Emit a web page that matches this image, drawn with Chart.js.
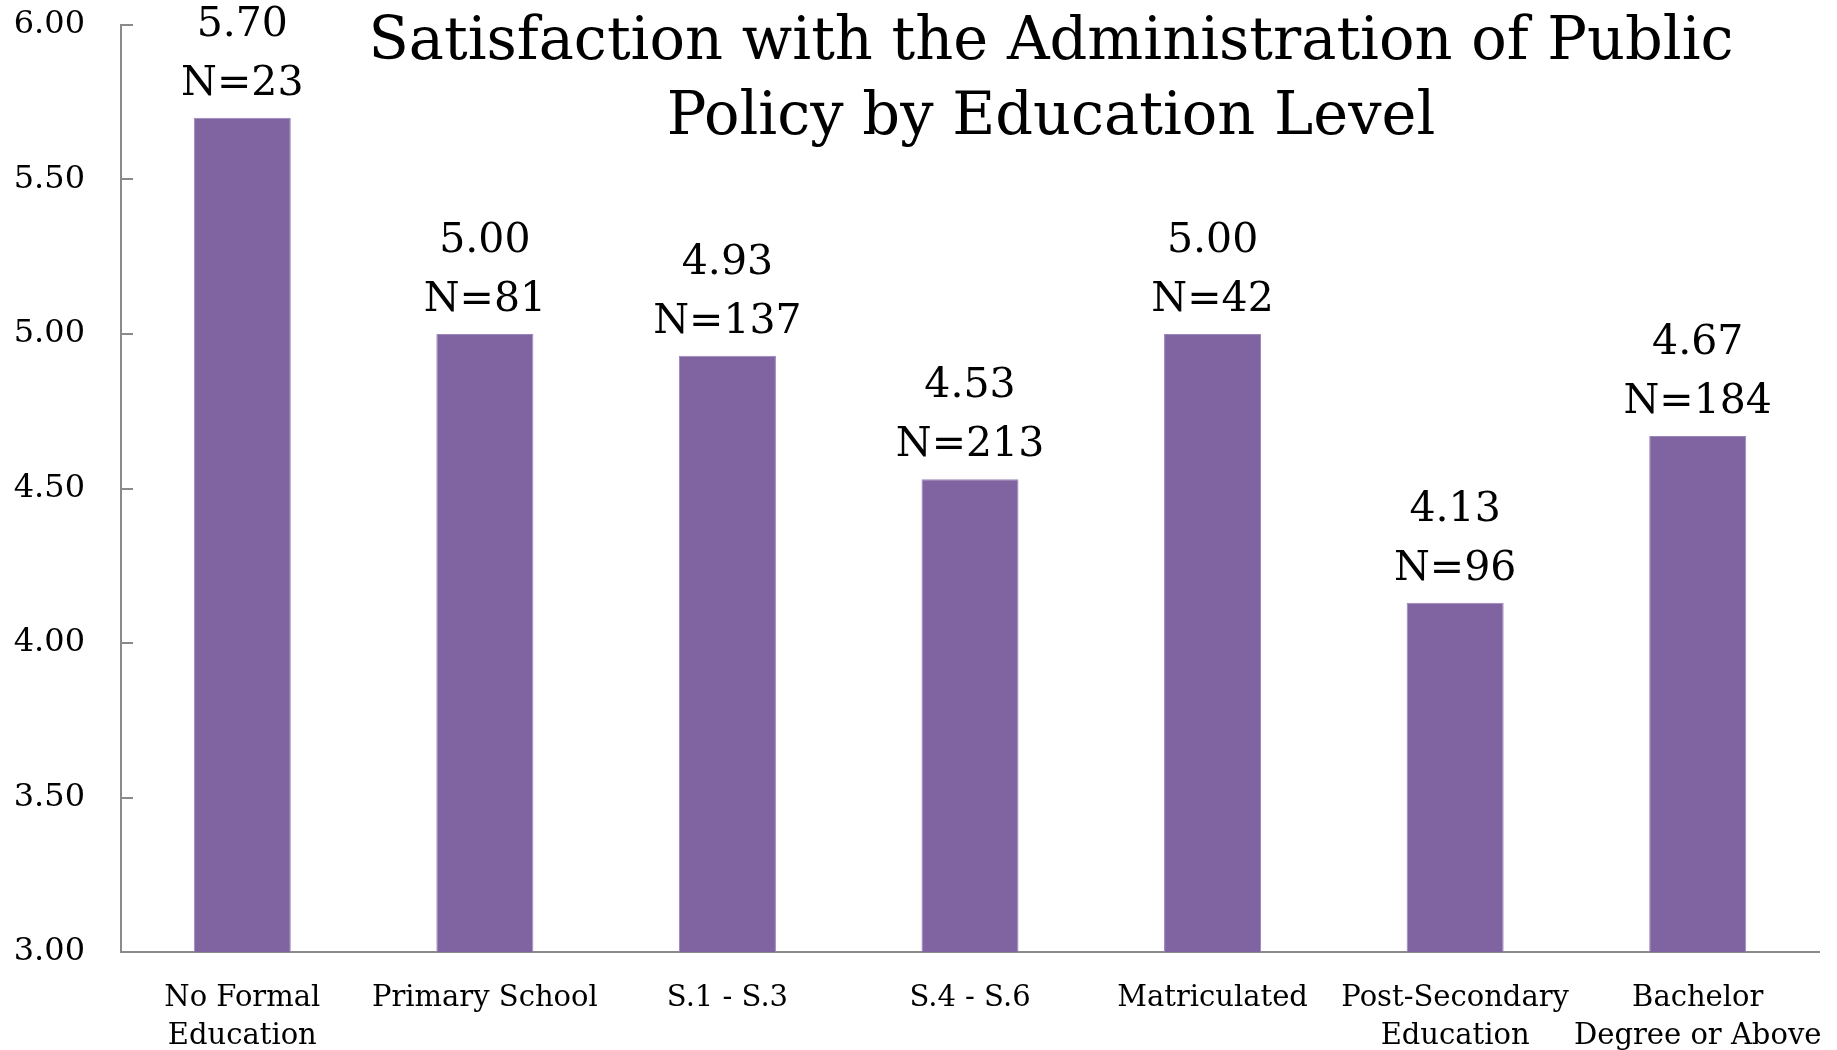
<!DOCTYPE html>
<html>
<head>
<meta charset="utf-8">
<script src="https://cdn.jsdelivr.net/npm/chart.js@4/dist/chart.umd.min.js"></script>
<style>
html,body{margin:0;padding:0;background:#fff;}
#wrap{width:1837px;height:1050px;}
</style>
</head>
<body>
<div id="wrap"><canvas id="c" width="1837" height="1050"></canvas></div>
<script>
const categories = [["No Formal","Education"],"Primary School","S.1 - S.3","S.4 - S.6","Matriculated",["Post-Secondary","Education"],["Bachelor","Degree or Above"]];
const meanScores = [5.70, 5.00, 4.93, 4.53, 5.00, 4.13, 4.67];
const sampleSizes = [23, 81, 137, 213, 42, 96, 184];
const titleLines = ["Satisfaction with the Administration of Public", "Policy by Education Level"];
const yMin = 3.0, yMax = 6.0, yStep = 0.5;

const FONT = "'DejaVu Serif', serif";
const AXIS_GRAY = '#8a8a8a';

const innerTicks = {
  id: 'innerTicks',
  afterDraw(chart) {
    const ctx = chart.ctx, y = chart.scales.y, area = chart.chartArea;
    ctx.save();
    ctx.strokeStyle = AXIS_GRAY;
    ctx.lineWidth = 2;
    y.ticks.forEach(t => {
      const py = Math.round(y.getPixelForValue(t.value));
      ctx.beginPath();
      ctx.moveTo(area.left, py);
      ctx.lineTo(area.left + 12, py);
      ctx.stroke();
    });
    ctx.restore();
  }
};

const barLabels = {
  id: 'barLabels',
  afterDatasetsDraw(chart) {
    const ctx = chart.ctx;
    const meta = chart.getDatasetMeta(0);
    ctx.save();
    ctx.fillStyle = '#000';
    ctx.font = "41px " + FONT;
    ctx.textAlign = 'center';
    ctx.textBaseline = 'alphabetic';
    meta.data.forEach((bar, i) => {
      ctx.fillText(meanScores[i].toFixed(2), bar.x, bar.y - 23 - 59);
      ctx.fillText('N=' + sampleSizes[i], bar.x, bar.y - 23);
    });
    ctx.restore();
  }
};

const overlayTitle = {
  id: 'overlayTitle',
  afterDraw(chart) {
    const ctx = chart.ctx;
    ctx.save();
    ctx.fillStyle = '#000';
    ctx.font = "59px " + FONT;
    ctx.textAlign = 'center';
    ctx.textBaseline = 'alphabetic';
    ctx.fillText(titleLines[0], 1051, 59);
    ctx.fillText(titleLines[1], 1051, 134);
    ctx.restore();
  }
};

new Chart(document.getElementById('c'), {
  type: 'bar',
  data: {
    labels: categories,
    datasets: [{
      data: meanScores,
      backgroundColor: '#8064A2',
      borderColor: '#9a86b8',
      borderWidth: 1,
      barPercentage: 0.4,
      categoryPercentage: 1.0
    }]
  },
  options: {
    responsive: false,
    animation: false,
    devicePixelRatio: 1,
    layout: { padding: { top: 25, right: 18, bottom: 0, left: 0 } },
    plugins: { legend: { display: false }, tooltip: { enabled: false }, title: { display: false } },
    scales: {
      x: {
        grid: { display: true, drawOnChartArea: false, drawTicks: false },
        border: { display: true, color: AXIS_GRAY, width: 2 },
        ticks: { color: '#000', font: { family: FONT, size: 29, lineHeight: 1.29 }, padding: 28, maxRotation: 0, autoSkip: false },
        afterFit(s) { s.height = 98; s.paddingLeft = 0; s.paddingRight = 0; }
      },
      y: {
        min: yMin, max: yMax,
        grid: { display: true, drawOnChartArea: false, drawTicks: false },
        border: { display: true, color: AXIS_GRAY, width: 2 },
        ticks: { stepSize: yStep, color: '#000', font: { family: FONT, size: 32 }, padding: 36, callback: v => Number(v).toFixed(2) },
        afterFit(s) { s.width = 121; s.paddingTop = 0; s.paddingBottom = 0; }
      }
    }
  },
  plugins: [innerTicks, barLabels, overlayTitle]
});
</script>
</body>
</html>
